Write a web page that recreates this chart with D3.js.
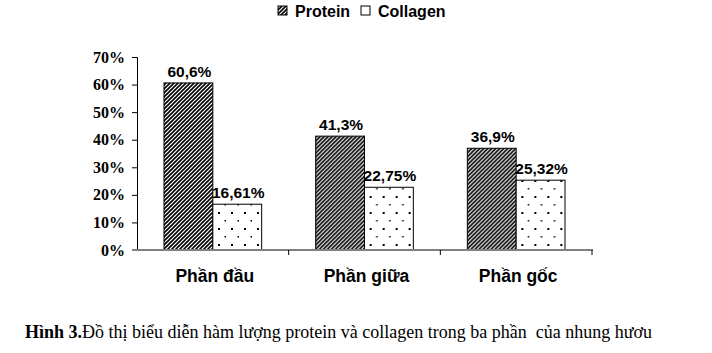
<!DOCTYPE html>
<html>
<head>
<meta charset="utf-8">
<script src="https://cdn.jsdelivr.net/npm/d3@7"></script>
<style>
  body { margin: 0; background: #fff; }
  svg { display: block; }
  .val { font-family: Arial, "Liberation Sans", sans-serif; font-weight: bold; font-size: 15.5px; }
  .cat { font-family: Arial, "Liberation Sans", sans-serif; font-weight: bold; font-size: 17.5px; }
  .leg { font-family: Arial, "Liberation Sans", sans-serif; font-weight: bold; font-size: 16px; }
  .ytick { font-family: "Times New Roman", "Liberation Serif", serif; font-weight: bold; font-size: 16px; }
  .caption { font-family: "Times New Roman", "Liberation Serif", serif; font-size: 18px; white-space: pre; }
</style>
</head>
<body>
<div id="chart"></div>
<script>
// data
const categories = ["Phần đầu", "Phần giữa", "Phần gốc"];
const series = ["Protein", "Collagen"];
const protein = [60.6, 41.3, 36.9];
const collagen = [16.61, 22.75, 25.32];
const proteinLabels = ["60,6%", "41,3%", "36,9%"];
const collagenLabels = ["16,61%", "22,75%", "25,32%"];
const yTicks = [0, 10, 20, 30, 40, 50, 60, 70];

const W = 712, H = 353;

const svg = d3.select("#chart").append("svg")
    .attr("width", W)
    .attr("height", H);

// fill patterns
const defs = svg.append("defs");
const hatch = defs.append("pattern")
    .attr("id", "hatch")
    .attr("patternUnits", "userSpaceOnUse")
    .attr("width", 4).attr("height", 4);
hatch.append("rect").attr("width", 4).attr("height", 4).attr("fill", "#fff");
hatch.append("path")
    .attr("d", "M-1,1 l2,-2 M0,4 l4,-4 M3,5 l2,-2")
    .attr("stroke", "#000")
    .attr("stroke-width", 1.6);

const dots = defs.append("pattern")
    .attr("id", "dots")
    .attr("patternUnits", "userSpaceOnUse")
    .attr("width", 13).attr("height", 16);
dots.append("rect").attr("width", 13).attr("height", 16).attr("fill", "#fff");
dots.append("rect").attr("x", 3).attr("y", 4).attr("width", 2).attr("height", 2).attr("fill", "#000");
dots.append("rect").attr("x", 9.5).attr("y", 12).attr("width", 1.5).attr("height", 1.5).attr("fill", "#000");

const fills = { Protein: "url(#hatch)", Collagen: "url(#dots)" };

// scales
const x = d3.scaleBand()
    .domain(categories)
    .range([137, 592])
    .paddingInner(0);

const x1 = d3.scaleBand()
    .domain(series)
    .range([27, x.bandwidth() - 27])
    .padding(0);

const y = d3.scaleLinear()
    .domain([0, 70])
    .range([250, 57]);

// y axis
const yAxis = svg.append("g")
    .attr("transform", "translate(137,0)")
    .call(d3.axisLeft(y).tickValues(yTicks).tickSize(5).tickFormat(d => d + "%"));
yAxis.select(".domain").attr("stroke", "#000");
yAxis.selectAll(".tick line").attr("stroke", "#000");
yAxis.selectAll("text")
    .attr("class", "ytick")
    .attr("fill", "#000")
    .attr("x", -12);

// bars
const rows = categories.map((c, i) => ({
    cat: c,
    vals: [
        { s: "Protein", v: protein[i], label: proteinLabels[i] },
        { s: "Collagen", v: collagen[i], label: collagenLabels[i] }
    ]
}));

const groups = svg.selectAll("g.grp")
    .data(rows)
    .enter().append("g")
    .attr("class", "grp")
    .attr("transform", d => `translate(${x(d.cat)},0)`);

groups.selectAll("rect")
    .data(d => d.vals)
    .enter().append("rect")
    .attr("x", d => x1(d.s))
    .attr("y", d => y(d.v))
    .attr("width", x1.bandwidth())
    .attr("height", d => y(0) - y(d.v))
    .attr("fill", d => fills[d.s])
    .attr("stroke", "#000")
    .attr("stroke-width", 1);

groups.selectAll("text.val")
    .data(d => d.vals)
    .enter().append("text")
    .attr("class", "val")
    .attr("x", d => x1(d.s) + x1.bandwidth() / 2 + 1)
    .attr("y", d => y(d.v) - 6)
    .attr("text-anchor", "middle")
    .text(d => d.label);

// x axis
const xAxis = svg.append("g")
    .attr("transform", "translate(0,250)");
xAxis.append("line")
    .attr("x1", 132).attr("x2", x.range()[1] + 1)
    .attr("stroke", "#808080").attr("stroke-width", 2);
xAxis.selectAll("line.tk")
    .data(categories.slice(1).concat(["end"]))
    .enter().append("line")
    .attr("class", "tk")
    .attr("x1", (d, i) => x.range()[0] + (i + 1) * x.bandwidth())
    .attr("x2", (d, i) => x.range()[0] + (i + 1) * x.bandwidth())
    .attr("y1", 0).attr("y2", 5)
    .attr("stroke", "#000");
xAxis.selectAll("text.cat")
    .data(categories)
    .enter().append("text")
    .attr("class", "cat")
    .attr("x", d => x(d) + x.bandwidth() / 2 + 2)
    .attr("y", 32)
    .attr("text-anchor", "middle")
    .text(d => d);

// legend
const legend = svg.append("g").attr("transform", "translate(278,6)");
const legX = [0, 83];
series.forEach((s, i) => {
    legend.append("rect")
        .attr("x", legX[i]).attr("y", 0)
        .attr("width", 9).attr("height", 9)
        .attr("fill", fills[s])
        .attr("stroke", "#000");
    legend.append("text")
        .attr("class", "leg")
        .attr("x", legX[i] + 17)
        .attr("y", 11)
        .text(s);
});

// caption
const cap = svg.append("text")
    .attr("class", "caption")
    .attr("x", 25)
    .attr("y", 338);
cap.append("tspan").attr("font-weight", "bold").text("Hình 3.");
cap.append("tspan").text("Đồ thị biểu diễn hàm lượng protein và collagen trong ba phần  của nhung hươu");
</script>
</body>
</html>
